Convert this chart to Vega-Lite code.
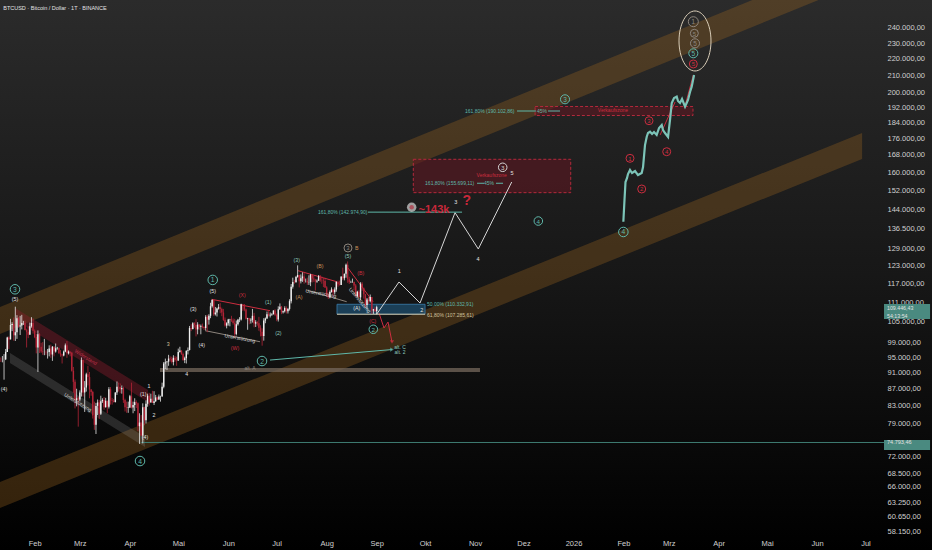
{
"$schema":"https://vega.github.io/schema/vega-lite/v6.json",
"width":932,"height":550,"autosize":{"type":"none"},"padding":0,
"background":"#000000",
"config":{
 "view":{"stroke":null,"fill":{"gradient":"linear","x1":0,"y1":0,"x2":0,"y2":1,"stops":[{"offset":0,"color":"#2b2b2b"},{"offset":0.5,"color":"#171717"},{"offset":1,"color":"#000000"}]}},
 "locale":{"number":{"decimal":",","thousands":".","grouping":[3],"currency":["","€"]}},
 "font":"Liberation Sans"
},
"resolve":{"scale":{"color":"independent","size":"independent"}},
"datasets":{
"bands":[
{"g":"up","d":"2025-01-10T12:00:00Z","p":109487,"p2":101480},
{"g":"up","d":"2026-08-11T06:00:00Z","p":319130,"p2":295780},
{"g":"lo","d":"2025-01-10T12:00:00Z","p":66925,"p2":62207},
{"g":"lo","d":"2026-06-28T22:00:00Z","p":178680,"p2":166080},
{"g":"rc","d":"2025-01-19T19:00:00Z","p":109180,"p2":105550},
{"g":"rc","d":"2025-04-12T06:00:00Z","p":86700,"p2":83810},
{"g":"gc","d":"2025-01-16T17:00:00Z","p":96210,"p2":93530},
{"g":"gc","d":"2025-04-10T09:00:00Z","p":75950,"p2":73850}
],
"rects":[
{"g":"altA","d":"2025-04-19T16:00:00Z","d2":"2025-11-04T01:00:00Z","p":92230,"p2":91190},
{"g":"fib","d":"2025-08-07T10:00:00Z","d2":"2025-10-01T00:00:00Z","p":110332,"p2":107285},
{"g":"rb","d":"2025-09-23T17:00:00Z","d2":"2025-12-30T07:00:00Z","p":165890,"p2":151020},
{"g":"rb","d":"2025-12-08T05:00:00Z","d2":"2026-03-16T02:00:00Z","p":192430,"p2":187630},
{"g":"ax","d":"2026-07-12T12:00:00Z","d2":"2026-08-10T01:00:00Z","p":75300,"p2":73220},
{"g":"ax","d":"2026-07-12T12:00:00Z","d2":"2026-08-10T01:00:00Z","p":110410,"p2":105870}
],
"segs":[
{"g":"zz","k":"w","d":"2025-09-01T00:00:00Z","p":107300},
{"g":"zz","k":"w","d":"2025-09-14T20:00:00Z","p":117470},
{"g":"zz","k":"w","d":"2025-09-27T21:00:00Z","p":110720},
{"g":"zz","k":"w","d":"2025-10-19T14:00:00Z","p":142760},
{"g":"zz","k":"w","d":"2025-11-03T00:00:00Z","p":128900},
{"g":"zz","k":"w","d":"2025-11-23T17:00:00Z","p":155620},
{"g":"ta","k":"t","d":"2025-06-26T21:00:00Z","p":94310},
{"g":"ta","k":"t","d":"2025-09-10T12:00:00Z","p":97140},
{"g":"ra","k":"r","d":"2025-09-02T11:00:00Z","p":107650},
{"g":"ra","k":"r","d":"2025-09-05T13:00:00Z","p":103210},
{"g":"ra","k":"r","d":"2025-09-08T01:00:00Z","p":104950},
{"g":"ra","k":"r","d":"2025-09-10T12:00:00Z","p":99220},
{"g":"L1","k":"r","d":"2025-05-21T18:00:00Z","p":111880},
{"g":"L1","k":"r","d":"2025-06-26T21:00:00Z","p":108360},
{"g":"L2","k":"r","d":"2025-07-14T06:00:00Z","p":121260},
{"g":"L2","k":"r","d":"2025-08-07T06:00:00Z","p":117570},
{"g":"L3","k":"r","d":"2025-08-14T05:00:00Z","p":122170},
{"g":"L3","k":"r","d":"2025-08-29T18:00:00Z","p":111130},
{"g":"G1","k":"g","d":"2025-05-17T14:00:00Z","p":102440},
{"g":"G1","k":"g","d":"2025-06-20T16:00:00Z","p":99300},
{"g":"G2","k":"g","d":"2025-07-19T15:00:00Z","p":114850},
{"g":"G2","k":"g","d":"2025-08-13T10:00:00Z","p":111130},
{"g":"f143","k":"t","d":"2025-08-26T15:00:00Z","p":142975},
{"g":"f143","k":"t","d":"2025-10-23T22:00:00Z","p":142975},
{"g":"f155a","k":"t","d":"2025-11-02T05:00:00Z","p":155070},
{"g":"f155a","k":"t","d":"2025-11-06T13:00:00Z","p":155070},
{"g":"f155b","k":"t","d":"2025-11-13T23:00:00Z","p":155070},
{"g":"f155b","k":"t","d":"2025-11-18T08:00:00Z","p":155070},
{"g":"f190a","k":"t","d":"2025-11-27T00:00:00Z","p":190020},
{"g":"f190a","k":"t","d":"2025-12-08T19:00:00Z","p":190020},
{"g":"f190b","k":"t","d":"2025-12-16T05:00:00Z","p":190020},
{"g":"f190b","k":"t","d":"2025-12-23T16:00:00Z","p":190020},
{"g":"fib618","k":"b","d":"2025-08-07T10:00:00Z","p":107285},
{"g":"fib618","k":"b","d":"2025-10-01T00:00:00Z","p":107285},
{"g":"low","k":"td","d":"2025-04-08T00:00:00Z","p":74793},
{"g":"low","k":"td","d":"2026-07-12T12:00:00Z","p":74793},
{"g":"rw1","k":"r","d":"2026-02-23T17:00:00Z","p":177630},
{"g":"rw1","k":"r","d":"2026-03-05T00:00:00Z","p":194900},
{"g":"rw2","k":"r","d":"2026-03-11T03:00:00Z","p":192700},
{"g":"rw2","k":"r","d":"2026-03-16T07:00:00Z","p":210270}
],
"proj":[
{"d":"2026-01-31T22:00:00Z","p":139180},
{"d":"2026-02-01T15:00:00Z","p":147930},
{"d":"2026-02-02T06:00:00Z","p":155620},
{"d":"2026-02-03T05:00:00Z","p":157380},
{"d":"2026-02-03T19:00:00Z","p":159150},
{"d":"2026-02-05T01:00:00Z","p":160960},
{"d":"2026-02-06T07:00:00Z","p":159610},
{"d":"2026-02-08T04:00:00Z","p":160520},
{"d":"2026-02-10T00:00:00Z","p":158700},
{"d":"2026-02-12T07:00:00Z","p":159610},
{"d":"2026-02-13T03:00:00Z","p":162310},
{"d":"2026-02-14T08:00:00Z","p":172670},
{"d":"2026-02-15T10:00:00Z","p":176780},
{"d":"2026-02-16T05:00:00Z","p":178620},
{"d":"2026-02-17T11:00:00Z","p":179270},
{"d":"2026-02-18T17:00:00Z","p":178130},
{"d":"2026-02-19T22:00:00Z","p":179130},
{"d":"2026-02-21T14:00:00Z","p":177630},
{"d":"2026-02-23T01:00:00Z","p":181140},
{"d":"2026-02-24T17:00:00Z","p":182700},
{"d":"2026-02-25T12:00:00Z","p":180130},
{"d":"2026-02-26T18:00:00Z","p":178620},
{"d":"2026-02-28T15:00:00Z","p":176650},
{"d":"2026-03-01T20:00:00Z","p":185260},
{"d":"2026-03-02T22:00:00Z","p":194360},
{"d":"2026-03-04T08:00:00Z","p":197080},
{"d":"2026-03-06T00:00:00Z","p":197840},
{"d":"2026-03-06T19:00:00Z","p":195440},
{"d":"2026-03-08T01:00:00Z","p":194360},
{"d":"2026-03-09T07:00:00Z","p":196540},
{"d":"2026-03-11T04:00:00Z","p":192350},
{"d":"2026-03-13T00:00:00Z","p":196000},
{"d":"2026-03-14T06:00:00Z","p":200460},
{"d":"2026-03-15T07:00:00Z","p":203470},
{"d":"2026-03-16T18:00:00Z","p":210270}
],
"circles":[
{"t":"3","k":"t","s":"l","d":"2025-01-19T19:00:00Z","p":115080},
{"t":"4","k":"t","s":"l","d":"2025-04-07T07:00:00Z","p":70990},
{"t":"1","k":"t","s":"l","d":"2025-05-22T09:00:00Z","p":118150},
{"t":"2","k":"t","s":"l","d":"2025-06-21T22:00:00Z","p":94050},
{"t":"2","k":"t","s":"s","d":"2025-08-29T22:00:00Z","p":102830},
{"t":"3","k":"t","s":"m","d":"2025-12-26T18:00:00Z","p":196380},
{"t":"4","k":"t","s":"s","d":"2025-12-10T05:00:00Z","p":139440},
{"t":"4","k":"t","s":"l","d":"2026-01-31T22:00:00Z","p":135210},
{"t":"5","k":"t","s":"m","d":"2026-03-16T07:00:00Z","p":223510},
{"t":"3","k":"w","s":"s","d":"2025-11-18T03:00:00Z","p":162190},
{"t":"1","k":"g","s":"xl","d":"2026-03-16T07:00:00Z","p":244280},
{"t":"5","k":"g","s":"xs","d":"2026-03-16T22:00:00Z","p":236450},
{"t":"5","k":"g","s":"m","d":"2026-03-17T08:00:00Z","p":229880},
{"t":"3","k":"g","s":"xs","d":"2025-08-14T05:00:00Z","p":129260},
{"t":"1","k":"r","s":"xs","d":"2026-02-05T01:00:00Z","p":166340},
{"t":"2","k":"r","s":"xs","d":"2026-02-12T07:00:00Z","p":152600},
{"t":"3","k":"r","s":"xs","d":"2026-02-16T20:00:00Z","p":184900},
{"t":"4","k":"r","s":"xs","d":"2026-02-27T19:00:00Z","p":169460},
{"t":"5","k":"r","s":"xs","d":"2026-03-16T07:00:00Z","p":216900}
],
"labC":[
{"t":"(5)","k":"w","s":"s","d":"2025-01-19T19:00:00Z","p":111970},
{"t":"(4)","k":"w","s":"s","d":"2025-01-13T00:00:00Z","p":86850},
{"t":"1","k":"w","s":"s","d":"2025-04-12T21:00:00Z","p":87660},
{"t":"2","k":"w","s":"s","d":"2025-04-16T00:00:00Z","p":80810},
{"t":"(4)","k":"w","s":"s","d":"2025-04-10T09:00:00Z","p":76030},
{"t":"(1)","k":"w","s":"s","d":"2025-04-09T08:00:00Z","p":85710},
{"t":"3","k":"b","s":"s","d":"2025-04-24T20:00:00Z","p":98670},
{"t":"4","k":"w","s":"s","d":"2025-05-06T06:00:00Z","p":90590},
{"t":"(3)","k":"w","s":"s","d":"2025-05-10T08:00:00Z","p":108770},
{"t":"(4)","k":"w","s":"s","d":"2025-05-15T13:00:00Z","p":98390},
{"t":"(5)","k":"w","s":"s","d":"2025-05-22T09:00:00Z","p":114620},
{"t":"(1)","k":"tl","s":"s","d":"2025-06-25T20:00:00Z","p":111130},
{"t":"(2)","k":"tl","s":"s","d":"2025-07-02T01:00:00Z","p":101840},
{"t":"(3)","k":"tl","s":"s","d":"2025-07-13T10:00:00Z","p":124950},
{"t":"(A)","k":"o","s":"s","d":"2025-07-14T21:00:00Z","p":112520},
{"t":"(B)","k":"o","s":"s","d":"2025-07-27T21:00:00Z","p":122870},
{"t":"(5)","k":"tl","s":"s","d":"2025-08-14T05:00:00Z","p":126370},
{"t":"B","k":"o","s":"s","d":"2025-08-19T15:00:00Z","p":129150},
{"t":"(B)","k":"r","s":"s","d":"2025-08-22T03:00:00Z","p":120380},
{"t":"(A)","k":"w","s":"s","d":"2025-08-19T15:00:00Z","p":109080},
{"t":"(C)","k":"r","s":"xs","d":"2025-08-29T13:00:00Z","p":105270},
{"t":"1","k":"w","s":"m","d":"2025-09-15T01:00:00Z","p":121040},
{"t":"2","k":"w","s":"m","d":"2025-09-28T22:00:00Z","p":108570},
{"t":"3","k":"w","s":"m","d":"2025-10-20T00:00:00Z","p":147120},
{"t":"4","k":"w","s":"m","d":"2025-11-02T20:00:00Z","p":125210},
{"t":"5","k":"w","s":"m","d":"2025-11-23T22:00:00Z","p":159740},
{"t":"alt. C","k":"tl","s":"xs","d":"2025-09-15T11:00:00Z","p":97920},
{"t":"alt. 2","k":"tl","s":"xs","d":"2025-09-15T11:00:00Z","p":96470},
{"t":"alt. A","k":"g","s":"xs","d":"2025-06-14T12:00:00Z","p":92310},
{"t":"(X)","k":"r","s":"s","d":"2025-06-09T17:00:00Z","p":113240},
{"t":"(W)","k":"r","s":"s","d":"2025-06-05T04:00:00Z","p":97480},
{"t":"Verkaufszone","k":"r","s":"xs","d":"2025-11-11T08:00:00Z","p":158700},
{"t":"45%","k":"t","s":"xs","d":"2025-11-09T16:00:00Z","p":155070},
{"t":"45%","k":"t","s":"xs","d":"2025-12-12T12:00:00Z","p":190020},
{"t":"Verkaufszone","k":"r","s":"xs","d":"2026-01-25T12:00:00Z","p":190560}
],
"labL":[
{"t":"161,80% (142.974,90)","k":"t","s":"xs","d":"2025-07-26T15:00:00Z","p":142975},
{"t":"161,80% (155.699,11)","k":"t","s":"xs","d":"2025-10-01T00:00:00Z","p":155070},
{"t":"161,80% (190.102,86)","k":"t","s":"xs","d":"2025-10-25T18:00:00Z","p":190020},
{"t":"50,00% (110.332,91)","k":"t","s":"xs","d":"2025-10-02T05:00:00Z","p":110330},
{"t":"61,80% (107.285,61)","k":"b","s":"xs","d":"2025-10-02T05:00:00Z","p":107100},
{"t":"74.793,46","k":"w","s":"m","d":"2026-07-14T09:00:00Z","p":74793},
{"t":"109.446,43","k":"w","s":"s","d":"2026-07-14T09:00:00Z","p":109140},
{"t":"54:13:54","k":"w","s":"s","d":"2026-07-14T09:00:00Z","p":106740},
{"t":"BTCUSD · Bitcoin / Dollar · 1T · BINANCE","k":"w","s":"m","d":"2025-01-12T12:00:00Z","p":253880}
],
"labB":[
{"t":"~143k","d":"2025-10-06T13:00:00Z","p":143830,"s":"a"},
{"t":"?","d":"2025-10-26T20:00:00Z","p":147650,"s":"b"}
],
"rot":[
{"t":"Unterstützung","k":"w","a":"r32","d":"2025-02-27T20:00:00Z","p":83810},
{"t":"Widerstand","k":"r","a":"r32","d":"2025-03-04T19:00:00Z","p":95120},
{"t":"Unterstützung","k":"w","a":"r10","d":"2025-06-08T07:00:00Z","p":100340},
{"t":"Unterstützung","k":"w","a":"r10","d":"2025-07-28T12:00:00Z","p":113790},
{"t":"Unterstützung","k":"w","a":"r50","d":"2025-08-21T16:00:00Z","p":111660}
],
"mag":[
{"d":"2025-09-22T17:00:00Z","p":144950}
],
"ell":[
{"d":"2026-03-17T08:00:00Z","p":231390}
],
"candles":[
{"d":"2025-01-10","o":94700,"h":95800,"l":92200,"c":94550},
{"d":"2025-01-11","o":94550,"h":95000,"l":93800,"c":94500},
{"d":"2025-01-12","o":94500,"h":95400,"l":93700,"c":94500},
{"d":"2025-01-13","o":94500,"h":95900,"l":89250,"c":94500},
{"d":"2025-01-14","o":94500,"h":97300,"l":94300,"c":96500},
{"d":"2025-01-15","o":96500,"h":100700,"l":96500,"c":100500},
{"d":"2025-01-16","o":100500,"h":100800,"l":97300,"c":99950},
{"d":"2025-01-17","o":99950,"h":105900,"l":99950,"c":104100},
{"d":"2025-01-18","o":104100,"h":104900,"l":102300,"c":104400},
{"d":"2025-01-19","o":104400,"h":106300,"l":99600,"c":101100},
{"d":"2025-01-20","o":101100,"h":109588,"l":99500,"c":102000},
{"d":"2025-01-21","o":102000,"h":107000,"l":100100,"c":106100},
{"d":"2025-01-22","o":106100,"h":106400,"l":103300,"c":103650},
{"d":"2025-01-23","o":103650,"h":106800,"l":101200,"c":103900},
{"d":"2025-01-24","o":103900,"h":107100,"l":102800,"c":104700},
{"d":"2025-01-25","o":104700,"h":105300,"l":104100,"c":104700},
{"d":"2025-01-26","o":104700,"h":105400,"l":102500,"c":102600},
{"d":"2025-01-27","o":102600,"h":103000,"l":97700,"c":102100},
{"d":"2025-01-28","o":102100,"h":103700,"l":100300,"c":101300},
{"d":"2025-01-29","o":101300,"h":104800,"l":101300,"c":103700},
{"d":"2025-01-30","o":103700,"h":106400,"l":103300,"c":104700},
{"d":"2025-01-31","o":104700,"h":106000,"l":101600,"c":102400},
{"d":"2025-02-01","o":102400,"h":102800,"l":100300,"c":100600},
{"d":"2025-02-02","o":100600,"h":101500,"l":96100,"c":97700},
{"d":"2025-02-03","o":97700,"h":102500,"l":91200,"c":101400},
{"d":"2025-02-04","o":101400,"h":101700,"l":96200,"c":97900},
{"d":"2025-02-05","o":97900,"h":99000,"l":96200,"c":96600},
{"d":"2025-02-06","o":96600,"h":99200,"l":95700,"c":96500},
{"d":"2025-02-07","o":96500,"h":100100,"l":95600,"c":96500},
{"d":"2025-02-08","o":96500,"h":96900,"l":95700,"c":96400},
{"d":"2025-02-09","o":96400,"h":97300,"l":94700,"c":96500},
{"d":"2025-02-10","o":96500,"h":98300,"l":95300,"c":97400},
{"d":"2025-02-11","o":97400,"h":98500,"l":94900,"c":95800},
{"d":"2025-02-12","o":95800,"h":98100,"l":94100,"c":97900},
{"d":"2025-02-13","o":97900,"h":98000,"l":95300,"c":96600},
{"d":"2025-02-14","o":96600,"h":98800,"l":96300,"c":97500},
{"d":"2025-02-15","o":97500,"h":97900,"l":97100,"c":97600},
{"d":"2025-02-16","o":97600,"h":97700,"l":96000,"c":96100},
{"d":"2025-02-17","o":96100,"h":97000,"l":95200,"c":95800},
{"d":"2025-02-18","o":95800,"h":96000,"l":93400,"c":95500},
{"d":"2025-02-19","o":95500,"h":96900,"l":95300,"c":96600},
{"d":"2025-02-20","o":96600,"h":98800,"l":96400,"c":98300},
{"d":"2025-02-21","o":98300,"h":99500,"l":94900,"c":96100},
{"d":"2025-02-22","o":96100,"h":96900,"l":95800,"c":96600},
{"d":"2025-02-23","o":96600,"h":96500,"l":95300,"c":96300},
{"d":"2025-02-24","o":96300,"h":96500,"l":91300,"c":91500},
{"d":"2025-02-25","o":91500,"h":92500,"l":86000,"c":88700},
{"d":"2025-02-26","o":88700,"h":89300,"l":82300,"c":84300},
{"d":"2025-02-27","o":84300,"h":87000,"l":82800,"c":84700},
{"d":"2025-02-28","o":84700,"h":85100,"l":78200,"c":84400},
{"d":"2025-03-01","o":84400,"h":86600,"l":84000,"c":86100},
{"d":"2025-03-02","o":86100,"h":95000,"l":85100,"c":94300},
{"d":"2025-03-03","o":94300,"h":94400,"l":85100,"c":86100},
{"d":"2025-03-04","o":86100,"h":88900,"l":81500,"c":87300},
{"d":"2025-03-05","o":87300,"h":91000,"l":86300,"c":90600},
{"d":"2025-03-06","o":90600,"h":92800,"l":87800,"c":89900},
{"d":"2025-03-07","o":89900,"h":91200,"l":84700,"c":86800},
{"d":"2025-03-08","o":86800,"h":86900,"l":85300,"c":86200},
{"d":"2025-03-09","o":86200,"h":86500,"l":80000,"c":80700},
{"d":"2025-03-10","o":80700,"h":83900,"l":77500,"c":78600},
{"d":"2025-03-11","o":78600,"h":83600,"l":76600,"c":82900},
{"d":"2025-03-12","o":82900,"h":84400,"l":80800,"c":83700},
{"d":"2025-03-13","o":83700,"h":84300,"l":79900,"c":81100},
{"d":"2025-03-14","o":81100,"h":85300,"l":80800,"c":84000},
{"d":"2025-03-15","o":84000,"h":84700,"l":83600,"c":84300},
{"d":"2025-03-16","o":84300,"h":85000,"l":82000,"c":82600},
{"d":"2025-03-17","o":82600,"h":84800,"l":82500,"c":84100},
{"d":"2025-03-18","o":84100,"h":84100,"l":81200,"c":82700},
{"d":"2025-03-19","o":82700,"h":87400,"l":82300,"c":86900},
{"d":"2025-03-20","o":86900,"h":87400,"l":83200,"c":84200},
{"d":"2025-03-21","o":84200,"h":84800,"l":83200,"c":84100},
{"d":"2025-03-22","o":84100,"h":84500,"l":83700,"c":83800},
{"d":"2025-03-23","o":83800,"h":86100,"l":83700,"c":86100},
{"d":"2025-03-24","o":86100,"h":88800,"l":85500,"c":87500},
{"d":"2025-03-25","o":87500,"h":88500,"l":86300,"c":87400},
{"d":"2025-03-26","o":87400,"h":88300,"l":85900,"c":86900},
{"d":"2025-03-27","o":86900,"h":87800,"l":85800,"c":87200},
{"d":"2025-03-28","o":87200,"h":87500,"l":83600,"c":84300},
{"d":"2025-03-29","o":84300,"h":84600,"l":81600,"c":82600},
{"d":"2025-03-30","o":82600,"h":83900,"l":81300,"c":82400},
{"d":"2025-03-31","o":82400,"h":83900,"l":81300,"c":82500},
{"d":"2025-04-01","o":82500,"h":85500,"l":82400,"c":85200},
{"d":"2025-04-02","o":85200,"h":88500,"l":82300,"c":82500},
{"d":"2025-04-03","o":82500,"h":83900,"l":81200,"c":83100},
{"d":"2025-04-04","o":83100,"h":84700,"l":81700,"c":83800},
{"d":"2025-04-05","o":83800,"h":84200,"l":82400,"c":83500},
{"d":"2025-04-06","o":83500,"h":83700,"l":77200,"c":78300},
{"d":"2025-04-07","o":78300,"h":81200,"l":74500,"c":79100},
{"d":"2025-04-08","o":79100,"h":80800,"l":76200,"c":76300},
{"d":"2025-04-09","o":76300,"h":83500,"l":74600,"c":82600},
{"d":"2025-04-10","o":82600,"h":82700,"l":78500,"c":79600},
{"d":"2025-04-11","o":79600,"h":84200,"l":78900,"c":83400},
{"d":"2025-04-12","o":83400,"h":85800,"l":82700,"c":85300},
{"d":"2025-04-13","o":85300,"h":86000,"l":83000,"c":83700},
{"d":"2025-04-14","o":83700,"h":85800,"l":83700,"c":84600},
{"d":"2025-04-15","o":84600,"h":86500,"l":83600,"c":83600},
{"d":"2025-04-16","o":83600,"h":86400,"l":83100,"c":84000},
{"d":"2025-04-17","o":84000,"h":85500,"l":83800,"c":84900},
{"d":"2025-04-18","o":84900,"h":85100,"l":84300,"c":84400},
{"d":"2025-04-19","o":84400,"h":85600,"l":84300,"c":85100},
{"d":"2025-04-20","o":85100,"h":85300,"l":83900,"c":85100},
{"d":"2025-04-21","o":85100,"h":88500,"l":85100,"c":87500},
{"d":"2025-04-22","o":87500,"h":93800,"l":87100,"c":93400},
{"d":"2025-04-23","o":93400,"h":94700,"l":91900,"c":93700},
{"d":"2025-04-24","o":93700,"h":94000,"l":91700,"c":93900},
{"d":"2025-04-25","o":93900,"h":95700,"l":92800,"c":94700},
{"d":"2025-04-26","o":94700,"h":95300,"l":93900,"c":94600},
{"d":"2025-04-27","o":94600,"h":95200,"l":93400,"c":93800},
{"d":"2025-04-28","o":93800,"h":95600,"l":92900,"c":94900},
{"d":"2025-04-29","o":94900,"h":95400,"l":93900,"c":94300},
{"d":"2025-04-30","o":94300,"h":95200,"l":92800,"c":94200},
{"d":"2025-05-01","o":94200,"h":97400,"l":94100,"c":96500},
{"d":"2025-05-02","o":96500,"h":97900,"l":96300,"c":96900},
{"d":"2025-05-03","o":96900,"h":96900,"l":95700,"c":95900},
{"d":"2025-05-04","o":95900,"h":96300,"l":94100,"c":94300},
{"d":"2025-05-05","o":94300,"h":95200,"l":93500,"c":94800},
{"d":"2025-05-06","o":94800,"h":96900,"l":93400,"c":96800},
{"d":"2025-05-07","o":96800,"h":97700,"l":95800,"c":97000},
{"d":"2025-05-08","o":97000,"h":103800,"l":96900,"c":103200},
{"d":"2025-05-09","o":103200,"h":104300,"l":102300,"c":102900},
{"d":"2025-05-10","o":102900,"h":104900,"l":102800,"c":104600},
{"d":"2025-05-11","o":104600,"h":104900,"l":103300,"c":104100},
{"d":"2025-05-12","o":104100,"h":105800,"l":100800,"c":102800},
{"d":"2025-05-13","o":102800,"h":104900,"l":101400,"c":104200},
{"d":"2025-05-14","o":104200,"h":104300,"l":102700,"c":103500},
{"d":"2025-05-15","o":103500,"h":104200,"l":101400,"c":103700},
{"d":"2025-05-16","o":103700,"h":104500,"l":103100,"c":103500},
{"d":"2025-05-17","o":103500,"h":103700,"l":102600,"c":103200},
{"d":"2025-05-18","o":103200,"h":107000,"l":102600,"c":106500},
{"d":"2025-05-19","o":106500,"h":107100,"l":102000,"c":105600},
{"d":"2025-05-20","o":105600,"h":107300,"l":104200,"c":106800},
{"d":"2025-05-21","o":106800,"h":110800,"l":106100,"c":109700},
{"d":"2025-05-22","o":109700,"h":111900,"l":109300,"c":111700},
{"d":"2025-05-23","o":111700,"h":111800,"l":106800,"c":107300},
{"d":"2025-05-24","o":107300,"h":109500,"l":106900,"c":107800},
{"d":"2025-05-25","o":107800,"h":109300,"l":106600,"c":109000},
{"d":"2025-05-26","o":109000,"h":110400,"l":108700,"c":109400},
{"d":"2025-05-27","o":109400,"h":110700,"l":107600,"c":108900},
{"d":"2025-05-28","o":108900,"h":109300,"l":106700,"c":107800},
{"d":"2025-05-29","o":107800,"h":108900,"l":105300,"c":105600},
{"d":"2025-05-30","o":105600,"h":106300,"l":103600,"c":103900},
{"d":"2025-05-31","o":103900,"h":104900,"l":103100,"c":104600},
{"d":"2025-06-01","o":104600,"h":105900,"l":103900,"c":105700},
{"d":"2025-06-02","o":105700,"h":105900,"l":103700,"c":105800},
{"d":"2025-06-03","o":105800,"h":106800,"l":105000,"c":105400},
{"d":"2025-06-04","o":105400,"h":106000,"l":104200,"c":104700},
{"d":"2025-06-05","o":104700,"h":105900,"l":100400,"c":101500},
{"d":"2025-06-06","o":101500,"h":105400,"l":101100,"c":104300},
{"d":"2025-06-07","o":104300,"h":105900,"l":103900,"c":105600},
{"d":"2025-06-08","o":105600,"h":106400,"l":104900,"c":105700},
{"d":"2025-06-09","o":105700,"h":110500,"l":105400,"c":110300},
{"d":"2025-06-10","o":110300,"h":110400,"l":108300,"c":110200},
{"d":"2025-06-11","o":110200,"h":110400,"l":108200,"c":108700},
{"d":"2025-06-12","o":108700,"h":109000,"l":105700,"c":105900},
{"d":"2025-06-13","o":105900,"h":106200,"l":102700,"c":106100},
{"d":"2025-06-14","o":106100,"h":106200,"l":104300,"c":105400},
{"d":"2025-06-15","o":105400,"h":106100,"l":104500,"c":105600},
{"d":"2025-06-16","o":105600,"h":108900,"l":104800,"c":106800},
{"d":"2025-06-17","o":106800,"h":107700,"l":103400,"c":104500},
{"d":"2025-06-18","o":104500,"h":105500,"l":103500,"c":104900},
{"d":"2025-06-19","o":104900,"h":105200,"l":103900,"c":104600},
{"d":"2025-06-20","o":104600,"h":106500,"l":102400,"c":103300},
{"d":"2025-06-21","o":103300,"h":104000,"l":100800,"c":102100},
{"d":"2025-06-22","o":102100,"h":103100,"l":98200,"c":100900},
{"d":"2025-06-23","o":100900,"h":106100,"l":99600,"c":105400},
{"d":"2025-06-24","o":105400,"h":106300,"l":104600,"c":106000},
{"d":"2025-06-25","o":106000,"h":108100,"l":105900,"c":107300},
{"d":"2025-06-26","o":107300,"h":108200,"l":106600,"c":106900},
{"d":"2025-06-27","o":106900,"h":107800,"l":106300,"c":107100},
{"d":"2025-06-28","o":107100,"h":107600,"l":106800,"c":107300},
{"d":"2025-06-29","o":107300,"h":108500,"l":107200,"c":108400},
{"d":"2025-06-30","o":108400,"h":108800,"l":106700,"c":107100},
{"d":"2025-07-01","o":107100,"h":107500,"l":105200,"c":105700},
{"d":"2025-07-02","o":105700,"h":109700,"l":105100,"c":108800},
{"d":"2025-07-03","o":108800,"h":110600,"l":108600,"c":109600},
{"d":"2025-07-04","o":109600,"h":109800,"l":107300,"c":107900},
{"d":"2025-07-05","o":107900,"h":108400,"l":107500,"c":108200},
{"d":"2025-07-06","o":108200,"h":109700,"l":107800,"c":109200},
{"d":"2025-07-07","o":109200,"h":109700,"l":107500,"c":108200},
{"d":"2025-07-08","o":108200,"h":109200,"l":107500,"c":108900},
{"d":"2025-07-09","o":108900,"h":111900,"l":108400,"c":111300},
{"d":"2025-07-10","o":111300,"h":116800,"l":110600,"c":115900},
{"d":"2025-07-11","o":115900,"h":118900,"l":115300,"c":117500},
{"d":"2025-07-12","o":117500,"h":118200,"l":116900,"c":117400},
{"d":"2025-07-13","o":117400,"h":119500,"l":117300,"c":119100},
{"d":"2025-07-14","o":119100,"h":123100,"l":118900,"c":119800},
{"d":"2025-07-15","o":119800,"h":119900,"l":115700,"c":117700},
{"d":"2025-07-16","o":117700,"h":120000,"l":117000,"c":118700},
{"d":"2025-07-17","o":118700,"h":120700,"l":117500,"c":119300},
{"d":"2025-07-18","o":119300,"h":120900,"l":116900,"c":117900},
{"d":"2025-07-19","o":117900,"h":118600,"l":117300,"c":117900},
{"d":"2025-07-20","o":117900,"h":118900,"l":116500,"c":117300},
{"d":"2025-07-21","o":117300,"h":119700,"l":116500,"c":117400},
{"d":"2025-07-22","o":117400,"h":120200,"l":116100,"c":119900},
{"d":"2025-07-23","o":119900,"h":120100,"l":117300,"c":118600},
{"d":"2025-07-24","o":118600,"h":119500,"l":117500,"c":118300},
{"d":"2025-07-25","o":118300,"h":118500,"l":114700,"c":117600},
{"d":"2025-07-26","o":117600,"h":118300,"l":117200,"c":117900},
{"d":"2025-07-27","o":117900,"h":119800,"l":117800,"c":119400},
{"d":"2025-07-28","o":119400,"h":119800,"l":117500,"c":118000},
{"d":"2025-07-29","o":118000,"h":119300,"l":116900,"c":117900},
{"d":"2025-07-30","o":117900,"h":118800,"l":115800,"c":117800},
{"d":"2025-07-31","o":117800,"h":118900,"l":115500,"c":115700},
{"d":"2025-08-01","o":115700,"h":116100,"l":112700,"c":113300},
{"d":"2025-08-02","o":113300,"h":114000,"l":112000,"c":112500},
{"d":"2025-08-03","o":112500,"h":114700,"l":112200,"c":114200},
{"d":"2025-08-04","o":114200,"h":115700,"l":114000,"c":115000},
{"d":"2025-08-05","o":115000,"h":115100,"l":112700,"c":114100},
{"d":"2025-08-06","o":114100,"h":115700,"l":113400,"c":115000},
{"d":"2025-08-07","o":115000,"h":117700,"l":114300,"c":117500},
{"d":"2025-08-08","o":117500,"h":117900,"l":115900,"c":116700},
{"d":"2025-08-09","o":116700,"h":117900,"l":116300,"c":116500},
{"d":"2025-08-10","o":116500,"h":119300,"l":116500,"c":119300},
{"d":"2025-08-11","o":119300,"h":122300,"l":118100,"c":118700},
{"d":"2025-08-12","o":118700,"h":120300,"l":118000,"c":120200},
{"d":"2025-08-13","o":120200,"h":123700,"l":118900,"c":123300},
{"d":"2025-08-14","o":123300,"h":124450,"l":117200,"c":118400},
{"d":"2025-08-15","o":118400,"h":119200,"l":116800,"c":117400},
{"d":"2025-08-16","o":117400,"h":117900,"l":117200,"c":117500},
{"d":"2025-08-17","o":117500,"h":118600,"l":117200,"c":117500},
{"d":"2025-08-18","o":117500,"h":117600,"l":114700,"c":116300},
{"d":"2025-08-19","o":116300,"h":116800,"l":112700,"c":112900},
{"d":"2025-08-20","o":112900,"h":114600,"l":112400,"c":114300},
{"d":"2025-08-21","o":114300,"h":114800,"l":112400,"c":112500},
{"d":"2025-08-22","o":112500,"h":117400,"l":111700,"c":116900},
{"d":"2025-08-23","o":116900,"h":117400,"l":114600,"c":115400},
{"d":"2025-08-24","o":115400,"h":115700,"l":112100,"c":113500},
{"d":"2025-08-25","o":113500,"h":113600,"l":109300,"c":110100},
{"d":"2025-08-26","o":110100,"h":112300,"l":108700,"c":111800},
{"d":"2025-08-27","o":111800,"h":112600,"l":110400,"c":111300},
{"d":"2025-08-28","o":111300,"h":113400,"l":110900,"c":112600},
{"d":"2025-08-29","o":112600,"h":112600,"l":107400,"c":108400},
{"d":"2025-08-30","o":108400,"h":108900,"l":107400,"c":108800},
{"d":"2025-08-31","o":108800,"h":109500,"l":108000,"c":108200},
{"d":"2025-09-01","o":108200,"h":109900,"l":107270,"c":109446}
]
},
"encoding":{
 "x":{"field":"d","type":"temporal",
  "scale":{"type":"utc","padding":0,"domain":[{"year":2025,"month":1,"date":10,"hours":12,"utc":true},{"year":2026,"month":8,"date":11,"hours":6,"utc":true}]},
  "axis":{"orient":"bottom","offset":-14,"title":null,"grid":false,"domain":false,"ticks":false,"labelColor":"#d0d0d0","labelFontSize":7.5,"labelFont":"Liberation Sans","labelPadding":3,"labelOverlap":false,"labelFlush":false,"labelAlign":"center",
   "values":[{"year":2025,"month":2,"date":1,"utc":true},{"year":2025,"month":3,"date":1,"utc":true},{"year":2025,"month":4,"date":1,"utc":true},{"year":2025,"month":5,"date":1,"utc":true},{"year":2025,"month":6,"date":1,"utc":true},{"year":2025,"month":7,"date":1,"utc":true},{"year":2025,"month":8,"date":1,"utc":true},{"year":2025,"month":9,"date":1,"utc":true},{"year":2025,"month":10,"date":1,"utc":true},{"year":2025,"month":11,"date":1,"utc":true},{"year":2025,"month":12,"date":1,"utc":true},{"year":2026,"month":1,"date":1,"utc":true},{"year":2026,"month":2,"date":1,"utc":true},{"year":2026,"month":3,"date":1,"utc":true},{"year":2026,"month":4,"date":1,"utc":true},{"year":2026,"month":5,"date":1,"utc":true},{"year":2026,"month":6,"date":1,"utc":true},{"year":2026,"month":7,"date":1,"utc":true}],
   "labelExpr":"utcmonth(datum.value)==0 ? utcFormat(datum.value,'%Y') : ['Jan','Feb','Mrz','Apr','Mai','Jun','Jul','Aug','Sep','Okt','Nov','Dez'][utcmonth(datum.value)]"}},
 "y":{"field":"p","type":"quantitative",
  "scale":{"type":"log","domain":[55273,259660],"nice":false,"padding":0},
  "axis":{"orient":"right","offset":-48,"title":null,"grid":false,"domain":false,"ticks":false,"labelColor":"#d0d0d0","labelFontSize":7.5,"labelFont":"Liberation Sans","labelPadding":3,"labelAlign":"left","labelBaseline":"middle","labelFlush":false,"labelOverlap":false,"format":",.2f",
   "values":[240000,230000,220000,210000,200000,192000,184000,176000,168000,160000,152000,144000,136500,129000,123000,117000,111000,105000,99000,95000,91000,87000,83000,79000,72000,68500,66000,63250,60650,58150]}}
},
"layer":[
{"data":{"name":"bands"},"transform":[{"filter":"datum.g=='up' || datum.g=='lo'"}],"mark":{"type":"area","color":"#a0661e","opacity":0.32,"clip":true},"encoding":{"y2":{"field":"p2"},"detail":{"field":"g","type":"nominal"}}},
{"data":{"name":"bands"},"transform":[{"filter":"datum.g=='rc'"}],"mark":{"type":"area","color":"#8e1c2c","opacity":0.4,"clip":true},"encoding":{"y2":{"field":"p2"}}},
{"data":{"name":"bands"},"transform":[{"filter":"datum.g=='gc'"}],"mark":{"type":"area","color":"#9a9a9a","opacity":0.22,"clip":true},"encoding":{"y2":{"field":"p2"}}},
{"data":{"name":"rects"},"transform":[{"filter":"datum.g=='altA'"}],"mark":{"type":"rect","color":"#75685c","opacity":0.75},"encoding":{"x2":{"field":"d2"},"y2":{"field":"p2"}}},
{"data":{"name":"rects"},"transform":[{"filter":"datum.g=='fib'"}],"mark":{"type":"rect","fill":"#1d4a68","fillOpacity":0.8,"stroke":"#3b7fae","strokeWidth":0.8},"encoding":{"x2":{"field":"d2"},"y2":{"field":"p2"}}},
{"data":{"name":"rects"},"transform":[{"filter":"datum.g=='rb'"}],"mark":{"type":"rect","fill":"#5e1822","fillOpacity":0.6,"stroke":"#b3293c","strokeWidth":1,"strokeDash":[3,2]},"encoding":{"x2":{"field":"d2"},"y2":{"field":"p2"}}},
{"data":{"name":"segs"},"mark":{"type":"line","strokeWidth":1,"clip":true},"encoding":{"detail":{"field":"g","type":"nominal"},"color":{"field":"k","type":"nominal","legend":null,"scale":{"domain":["w","r","t","tl","o","g","b","td"],"range":["#d6d6d6","#cc2d3f","#5fb8aa","#8ec9bf","#c9905a","#8d857d","#d3c39f","#3f7d73"]}}}},
{"data":{"values":[{"d":"2025-09-10T12:00:00Z","p":97140}]},"mark":{"type":"point","shape":"triangle-right","filled":true,"color":"#5fb8aa","size":18}},
{"data":{"values":[{"d":"2025-09-10T12:00:00Z","p":99220}]},"mark":{"type":"point","shape":"triangle-down","filled":true,"color":"#cc2d3f","size":18}},
{"data":{"name":"candles"},"mark":{"type":"rule","strokeWidth":0.8},"encoding":{
 "y":{"field":"l","type":"quantitative","scale":{"type":"log","domain":[55273,259660],"nice":false,"padding":0},"axis":{"orient":"right","offset":-48,"title":null,"grid":false,"domain":false,"ticks":false,"labelColor":"#d0d0d0","labelFontSize":7.5,"labelPadding":3,"labelAlign":"left","labelBaseline":"middle","labelFlush":false,"labelOverlap":false,"format":",.2f","values":[240000,230000,220000,210000,200000,192000,184000,176000,168000,160000,152000,144000,136500,129000,123000,117000,111000,105000,99000,95000,91000,87000,83000,79000,72000,68500,66000,63250,60650,58150]}},
 "y2":{"field":"h"},
 "color":{"condition":{"test":"datum.c>=datum.o","value":"#e6e6e6"},"value":"#b32437"}}},
{"data":{"name":"candles"},"mark":{"type":"bar","width":1.4},"encoding":{
 "y":{"field":"o","type":"quantitative","scale":{"type":"log","domain":[55273,259660],"nice":false,"padding":0},"axis":{"orient":"right","offset":-48,"title":null,"grid":false,"domain":false,"ticks":false,"labelColor":"#d0d0d0","labelFontSize":7.5,"labelPadding":3,"labelAlign":"left","labelBaseline":"middle","labelFlush":false,"labelOverlap":false,"format":",.2f","values":[240000,230000,220000,210000,200000,192000,184000,176000,168000,160000,152000,144000,136500,129000,123000,117000,111000,105000,99000,95000,91000,87000,83000,79000,72000,68500,66000,63250,60650,58150]}},
 "y2":{"field":"c"},
 "color":{"condition":{"test":"datum.c>=datum.o","value":"#f0f0f0"},"value":"#b32437"}}},
{"data":{"name":"proj"},"mark":{"type":"line","color":"#7cc4b8","strokeWidth":2.2}},
{"data":{"name":"mag"},"mark":{"type":"point","shape":"circle","filled":true,"color":"#d8d8d8","size":90}},
{"data":{"name":"mag"},"mark":{"type":"point","shape":"circle","filled":true,"color":"#b03040","size":20}},
{"data":{"name":"ell"},"mark":{"type":"point","shape":"M0,-1 A0.533,1 0 1,1 0,1 A0.533,1 0 1,1 0,-1 Z","filled":false,"color":"#d9cdb8","strokeWidth":1,"size":3600,"opacity":1}},
{"data":{"name":"circles"},"mark":{"type":"point","shape":"circle","filled":false,"strokeWidth":1,"opacity":1},"encoding":{
 "color":{"field":"k","type":"nominal","legend":null,"scale":{"domain":["w","r","t","tl","o","g","b","td"],"range":["#d6d6d6","#cc2d3f","#5fb8aa","#8ec9bf","#c9905a","#8d857d","#d3c39f","#3f7d73"]}},
 "size":{"field":"s","type":"ordinal","legend":null,"scale":{"domain":["xs","s","m","l","xl"],"range":[64,100,144,196,289]}}}},
{"data":{"name":"circles"},"mark":{"type":"text","align":"center","baseline":"middle","dy":0.5},"encoding":{
 "text":{"field":"t"},
 "color":{"field":"k","type":"nominal","legend":null,"scale":{"domain":["w","r","t","tl","o","g","b","td"],"range":["#d6d6d6","#cc2d3f","#5fb8aa","#8ec9bf","#c9905a","#8d857d","#d3c39f","#3f7d73"]}},
 "size":{"field":"s","type":"ordinal","legend":null,"scale":{"domain":["xs","s","m","l","xl"],"range":[6,7,8.5,10,12]}}}},
{"data":{"name":"rects"},"transform":[{"filter":"datum.g=='ax'"}],"mark":{"type":"rect","color":"#4a8a80"},"encoding":{"x2":{"field":"d2"},"y2":{"field":"p2"}}},
{"data":{"name":"labC"},"mark":{"type":"text","align":"center","baseline":"middle"},"encoding":{
 "text":{"field":"t"},
 "color":{"field":"k","type":"nominal","legend":null,"scale":{"domain":["w","r","t","tl","o","g","b","td"],"range":["#e2e2e2","#cc2d3f","#5fb8aa","#8ec9bf","#c9905a","#8d857d","#d3c39f","#3f7d73"]}},
 "size":{"field":"s","type":"ordinal","legend":null,"scale":{"domain":["xs","s","m","l","xl"],"range":[5,6,7,9.5,11]}}}},
{"data":{"name":"labL"},"mark":{"type":"text","align":"left","baseline":"middle"},"encoding":{
 "text":{"field":"t"},
 "color":{"field":"k","type":"nominal","legend":null,"scale":{"domain":["w","r","t","tl","o","g","b","td"],"range":["#e2e2e2","#cc2d3f","#5fb8aa","#8ec9bf","#c9905a","#8d857d","#d3c39f","#3f7d73"]}},
 "size":{"field":"s","type":"ordinal","legend":null,"scale":{"domain":["xs","s","m","l","xl"],"range":[5,6,7.2,9.5,11]}}}},
{"data":{"name":"labB"},"mark":{"type":"text","align":"center","baseline":"middle","fontWeight":"bold","color":"#c8283a"},"encoding":{
 "text":{"field":"t"},
 "size":{"field":"s","type":"ordinal","legend":null,"scale":{"domain":["a","b"],"range":[11,14]}}}},
{"data":{"name":"rot"},"transform":[{"filter":"datum.a=='r32'"}],"mark":{"type":"text","align":"center","baseline":"middle","angle":32,"fontSize":5},"encoding":{
 "text":{"field":"t"},
 "color":{"field":"k","type":"nominal","legend":null,"scale":{"domain":["w","r"],"range":["#dcdcdc","#c0304a"]}}}},
{"data":{"name":"rot"},"transform":[{"filter":"datum.a=='r10'"}],"mark":{"type":"text","align":"center","baseline":"middle","angle":10,"fontSize":5,"color":"#dcdcdc"},"encoding":{"text":{"field":"t"}}},
{"data":{"name":"rot"},"transform":[{"filter":"datum.a=='r50'"}],"mark":{"type":"text","align":"center","baseline":"middle","angle":50,"fontSize":5,"color":"#dcdcdc"},"encoding":{"text":{"field":"t"}}}
]
}
